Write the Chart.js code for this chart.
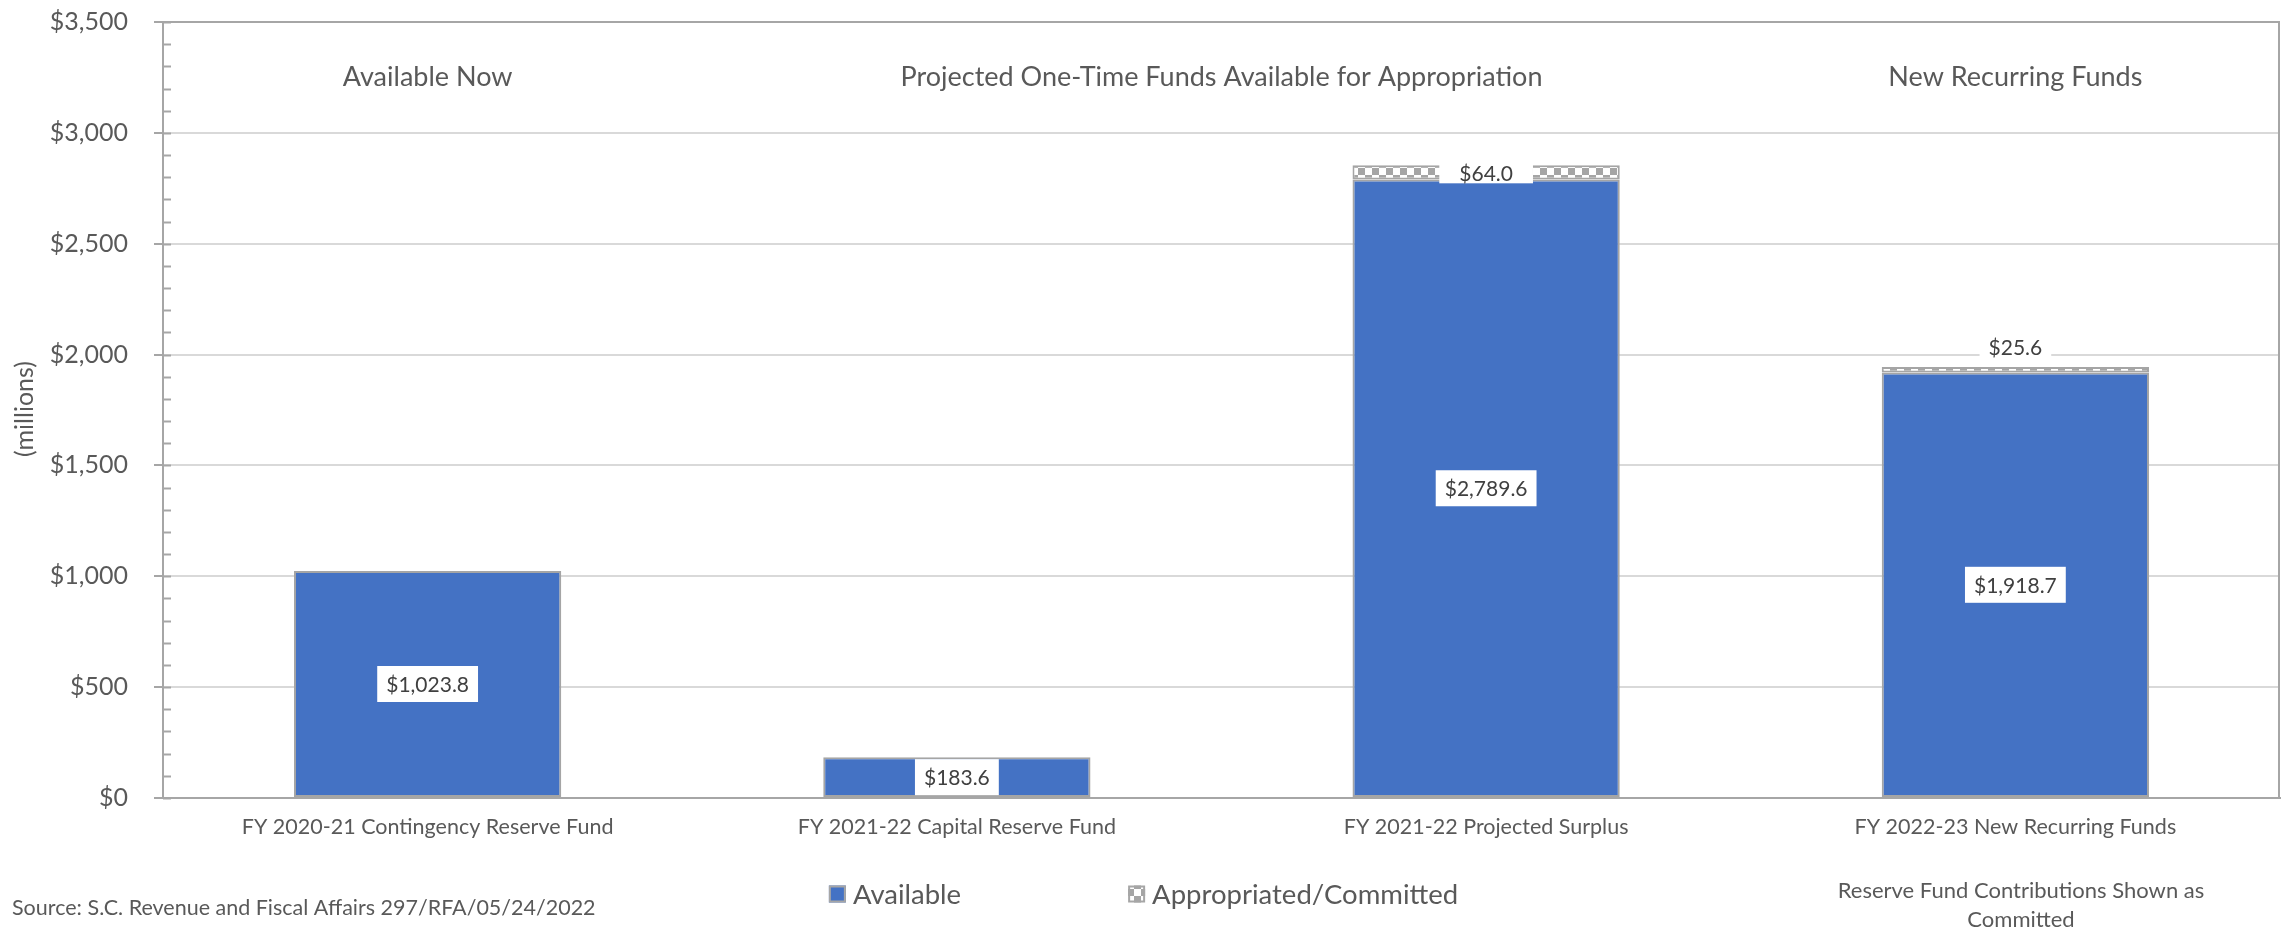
<!DOCTYPE html>
<html>
<head>
<meta charset="utf-8">
<script src="https://cdn.jsdelivr.net/npm/chart.js@4.4.0/dist/chart.umd.min.js"></script>
<style>
  body { margin: 0; background: #fff; }
  #contenedor { width: 2287px; height: 932px; }
</style>
</head>
<body>
<div id="contenedor"><canvas id="grafico"></canvas></div>
<script>
// Datos del gráfico
const categorias = [
    'FY 2020-21 Contingency Reserve Fund',
    'FY 2021-22 Capital Reserve Fund',
    'FY 2021-22 Projected Surplus',
    'FY 2022-23 New Recurring Funds'
];
const disponible = [1023.8, 183.6, 2789.6, 1918.7];
const comprometido = [0, 0, 64.0, 25.6];
const nombresSeries = ['Available', 'Appropriated/Committed'];
const encabezados = ['Available Now', 'Projected One-Time Funds Available for Appropriation', 'New Recurring Funds'];
const indiceEncabezados = [0, 1.5, 3]; // categoría sobre la que se centra cada encabezado
const tituloY = '(millions)';
const fuente = 'Source: S.C. Revenue and Fiscal Affairs 297/RFA/05/24/2022';
const nota = ['Reserve Fund Contributions Shown as', 'Committed'];

const letra = 'Lato';
const gris = '#595959';
const grisEje = '#a6a6a6';
const azul = '#4472c4';

// patrón de cuadros para la serie comprometida
const crearPatron = () => {
    const c = document.createElement('canvas');
    c.width = 14; c.height = 14;
    const p = c.getContext('2d');
    p.fillStyle = '#ffffff';
    p.fillRect(0, 0, 14, 14);
    p.fillStyle = '#a5a5a5';
    p.fillRect(0, 0, 7, 7);
    p.fillRect(7, 7, 7, 7);
    return p.createPattern(c, 'repeat');
};
const patron = crearPatron();

const formatoMoneda = (v) => '$' + v.toLocaleString('en-US', { minimumFractionDigits: 1, maximumFractionDigits: 1 });

// plugin para etiquetas, encabezados, leyenda y notas
const extras = {
    id: 'extras',
    beforeDatasetsDraw(chart) {
        const ctx = chart.ctx;
        const { left, right, top, bottom } = chart.chartArea;
        const escala = chart.scales.y;
        ctx.save();
        ctx.strokeStyle = grisEje;
        ctx.lineWidth = 2;
        // marcas menores hacia dentro
        escala.ticks.forEach((t, i) => {
            const y = Math.round(escala.getPixelForTick(i)) + 0.5;
            ctx.beginPath();
            ctx.moveTo(left, y);
            ctx.lineTo(left + 8, y);
            ctx.stroke();
        });
        // borde derecho
        ctx.beginPath();
        ctx.moveTo(right - 1, top);
        ctx.lineTo(right - 1, bottom);
        ctx.stroke();
        ctx.restore();
    },
    afterDatasetsDraw(chart) {
        const ctx = chart.ctx;
        ctx.save();
        ctx.font = `21px ${letra}`;
        ctx.textAlign = 'center';
        ctx.textBaseline = 'middle';
        chart.data.datasets.forEach((ds, i) => {
            const meta = chart.getDatasetMeta(i);
            meta.data.forEach((barra, j) => {
                const v = ds.data[j];
                if (!v) return;
                const texto = formatoMoneda(v);
                const anchoTexto = ctx.measureText(texto).width;
                const alto = barra.base - barra.y;
                let y = (barra.y + barra.base) / 2;
                let relleno = 9;
                let altoCaja = 36;
                if (i === 1) {
                    if (alto < 10) {
                        y = barra.y - 20;
                        altoCaja = 28;
                    } else {
                        relleno = 20;
                        altoCaja = 20;
                        y = barra.y + 8;
                    }
                }
                ctx.fillStyle = '#ffffff';
                ctx.fillRect(barra.x - anchoTexto / 2 - relleno, y - altoCaja / 2, anchoTexto + relleno * 2, altoCaja);
                ctx.fillStyle = '#404040';
                ctx.fillText(texto, barra.x, y + 1);
            });
        });
        ctx.restore();
    },
    afterDraw(chart) {
        const ctx = chart.ctx;
        const x = chart.scales.x;
        const yEsc = chart.scales.y;
        ctx.save();
        ctx.fillStyle = gris;
        ctx.textBaseline = 'middle';
        ctx.textAlign = 'center';

        // título del eje y
        ctx.save();
        ctx.font = `25px ${letra}`;
        ctx.translate(25, 409);
        ctx.rotate(-Math.PI / 2);
        ctx.fillText(tituloY, 0, 0);
        ctx.restore();

        // encabezados de sección
        ctx.font = `27px ${letra}`;
        encabezados.forEach((t, i) => {
            ctx.fillText(t, x.getPixelForValue(indiceEncabezados[i]), yEsc.getPixelForValue(3250));
        });

        // leyenda
        ctx.font = `27.5px ${letra}`;
        const caja = 17;
        const sep = 7;
        const hueco = 167;
        const anchos = nombresSeries.map((n) => caja + sep + ctx.measureText(n).width);
        const total = anchos[0] + hueco + anchos[1];
        let lx = chart.width / 2 - total / 2;
        const ly = 894;
        const rellenos = [azul, patron];
        ctx.textAlign = 'left';
        nombresSeries.forEach((n, i) => {
            ctx.fillStyle = rellenos[i];
            ctx.fillRect(lx, ly - caja / 2, caja, caja);
            ctx.strokeStyle = grisEje;
            ctx.lineWidth = 2;
            ctx.strokeRect(lx + 1, ly - caja / 2 + 1, caja - 2, caja - 2);
            ctx.fillStyle = gris;
            ctx.fillText(n, lx + caja + sep, ly + 1);
            lx += anchos[i] + hueco;
        });

        // fuente y nota
        ctx.font = `21.5px ${letra}`;
        ctx.fillText(fuente, 12, 908);
        ctx.font = `22px ${letra}`;
        ctx.textAlign = 'center';
        ctx.fillText(nota[0], 2021, 891);
        ctx.fillText(nota[1], 2021, 920);
        ctx.restore();
    }
};

const config = {
    type: 'bar',
    data: {
        labels: categorias,
        datasets: [
            {
                label: nombresSeries[0],
                data: disponible,
                backgroundColor: azul,
                borderColor: '#a5a5a5',
                borderWidth: 2,
                borderSkipped: false,
                barPercentage: 1,
                categoryPercentage: 0.505
            },
            {
                label: nombresSeries[1],
                data: comprometido,
                backgroundColor: patron,
                borderColor: '#a5a5a5',
                borderWidth: 2,
                borderSkipped: false,
                barPercentage: 1,
                categoryPercentage: 0.505
            }
        ]
    },
    options: {
        responsive: true,
        maintainAspectRatio: false,
        animation: false,
        layout: { padding: { left: 0, right: 7, top: 22, bottom: 84 } },
        plugins: {
            legend: { display: false },
            tooltip: { enabled: false }
        },
        scales: {
            x: {
                stacked: true,
                grid: { display: false, drawTicks: false },
                border: { color: grisEje, width: 2 },
                ticks: { color: gris, font: { family: letra, size: 21.5 }, padding: 16, maxRotation: 0 },
                afterFit: (s) => { s.height = 50; }
            },
            y: {
                stacked: true,
                min: 0,
                max: 3500,
                ticks: {
                    stepSize: 100,
                    autoSkip: false,
                    padding: 26,
                    color: gris,
                    font: { family: letra, size: 25 },
                    callback: (v) => (v % 500 === 0 ? '$' + v.toLocaleString('en-US') : '')
                },
                grid: {
                    color: (c) => (c.tick.value === 3500 ? grisEje : (c.tick.value % 500 === 0 ? '#d9d9d9' : 'rgba(0,0,0,0)')),
                    lineWidth: 2,
                    tickLength: 9,
                    tickColor: (c) => (c.tick.value % 500 === 0 ? grisEje : 'rgba(0,0,0,0)'),
                    tickWidth: 2
                },
                border: { color: grisEje, width: 2 },
                afterFit: (s) => {
                    s.width = 163;
                    s.paddingTop = 0;
                    s.paddingBottom = 0;
                }
            }
        }
    },
    plugins: [extras]
};

const myChart = new Chart(document.getElementById('grafico'), config);
</script>
</body>
</html>
